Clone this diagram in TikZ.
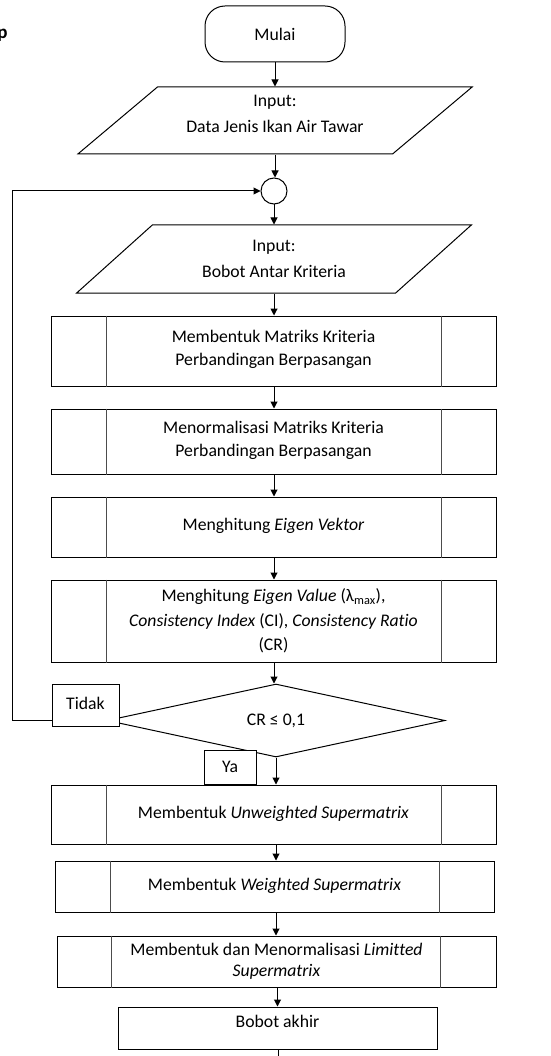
\documentclass[tikz,border=0pt]{standalone}
\usepackage{fontspec}
\setmainfont{Carlito}[Ligatures=NoCommon]
\usetikzlibrary{arrows.meta,shapes.geometric,calc}

% side bars of a predefined-process box
\newcommand\sidebars[3]{%
  \draw[bar] ($(#1.north west)+(#2,0)$) -- ($(#1.south west)+(#2,0)$);
  \draw[bar] ($(#1.north east)+(-#3,0)$) -- ($(#1.south east)+(-#3,0)$);}

\begin{document}
\begin{tikzpicture}[x=1pt,y=-1pt,line width=1pt,
  every node/.style={font=\fontsize{17.7}{23}\selectfont},
  flow/.style={-{Triangle[length=7pt,width=7pt]}},
  term/.style={draw,rounded corners=20pt,minimum width=140pt,minimum height=56pt,inner sep=0pt},
  io/.style={draw,trapezium,trapezium left angle=40,trapezium right angle=140,
    trapezium stretches=true,minimum width=395pt,minimum height=67pt,inner sep=0pt,align=center,
    font=\fontsize{17.7}{26}\selectfont},
  proc/.style={draw,minimum width=445pt,inner sep=0pt,align=center},
  bar/.style={draw=black!70,line width=0.8pt},
  dec/.style={draw,diamond,minimum width=338pt,minimum height=73pt,inner sep=0pt},
  lbl/.style={draw,fill=white,inner sep=0pt},
  joint/.style={draw,circle,minimum size=26pt,inner sep=0pt}]

\useasboundingbox (0,0) rectangle (550,1056);

% fragment of a heading letter at the left edge
\node[font=\bfseries\fontsize{19}{22}\selectfont,anchor=base west,inner sep=0pt] (frag) at (-3,39) {p};

\node[term] (start) at (275,34) {Mulai};
\node[io] (in1) at (275,120.5) {Input:\\Data Jenis Ikan Air Tawar\rule[-13pt]{0pt}{13pt}};
\node[joint] (jn) at (274,191) {};
\node[io,minimum height=68pt] (in2) at (274,259) {Input:\\Bobot Antar Kriteria};

\node[proc,minimum height=70pt] (b1) at (273.5,351) {Membentuk Matriks Kriteria\\Perbandingan Berpasangan\rule[-6pt]{0pt}{6pt}};
\node[proc,minimum height=65pt] (b2) at (273.5,441.5) {Menormalisasi Matriks Kriteria\\Perbandingan Berpasangan\rule[-6pt]{0pt}{6pt}};
\node[proc,minimum height=60pt] (b3) at (273.5,527) {Menghitung \textit{Eigen Vektor}\rule[-6pt]{0pt}{6pt}};
\node[proc,minimum height=82pt,font=\fontsize{17.7}{24.5}\selectfont] (b4) at (273.5,621)
  {Menghitung \textit{Eigen Value} (λ\textsubscript{max}),\\
   \textit{Consistency Index} (CI), \textit{Consistency Ratio}\\(CR)};
\node[dec] (dc) at (276,720.5) {CR ≤ 0,1};
\node[proc,minimum height=59pt] (b5) at (273.5,814.5) {Membentuk \textit{Unweighted Supermatrix}\rule[-4pt]{0pt}{4pt}};
\node[proc,minimum width=439pt,minimum height=51pt] (b6) at (274.5,886.5) {Membentuk \textit{Weighted Supermatrix}\rule[-5pt]{0pt}{5pt}};
\node[proc,minimum width=439pt,minimum height=51pt,font=\fontsize{17.7}{21}\selectfont] (b7) at (276.5,961.5)
  {Membentuk dan Menormalisasi \textit{Limitted}\\\textit{Supermatrix}};
\node[proc,minimum width=319pt,minimum height=42pt] (fin) at (277.5,1028) {Bobot akhir\rule[-14pt]{0pt}{14pt}};

\sidebars{b1}{56}{55}
\sidebars{b2}{56}{55}
\sidebars{b3}{56}{55}
\sidebars{b4}{56}{55}
\sidebars{b5}{56}{55}
\sidebars{b6}{56}{55}
\sidebars{b7}{55}{56}

% main flow
\draw[flow] (start.south) -- (start.south |- in1.north);
\draw[flow] (in1.south) -- (in1.south |- jn.north);
\draw[flow] (jn.south) -- (jn.south |- in2.north);
\draw[flow] (in2.south) -- (in2.south |- b1.north);
\draw[flow] (b1.south -| jn) -- (jn |- b2.north);
\draw[flow] (b2.south -| jn) -- (jn |- b3.north);
\draw[flow] (b3.south -| jn) -- (jn |- b4.north);
\draw[flow] (b4.south -| jn) -- (jn |- dc.north);
\draw[flow] (dc.south) -- (dc.south |- b5.north);
\draw[flow] (b5.south -| dc) -- (dc |- b6.north);
\draw[flow] (b6.south -| dc) -- (dc |- b7.north);
\draw[flow] (b7.south -| fin) -- (fin.north);
\coordinate (tail) at (278,1060);
\draw (fin.south -| tail) -- (tail);

% loop back when the ratio is too large
\draw[flow] (dc.west) -- ++(-94,0) |- (jn.west);

\node[lbl,minimum width=67pt,minimum height=42pt] (no) at (85.5,705) {Tidak\rule[-3pt]{0pt}{3pt}};
\node[lbl,minimum width=52pt,minimum height=34pt] (yes) at (230,767) {Ya};
\end{tikzpicture}
\end{document}
